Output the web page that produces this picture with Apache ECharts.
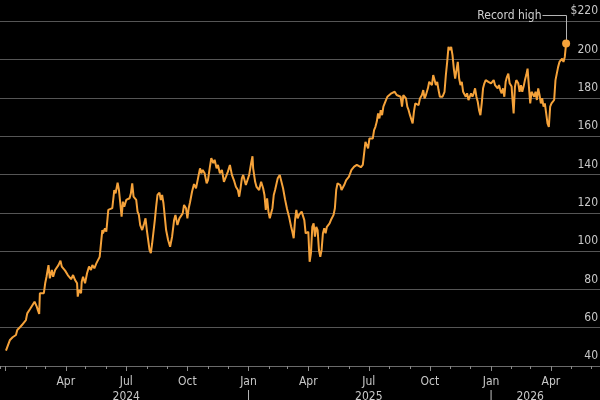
<!DOCTYPE html>
<html><head><meta charset="utf-8">
<script src="https://cdn.jsdelivr.net/npm/echarts@6/dist/echarts.min.js"></script>
<style>html,body{margin:0;padding:0;background:#000;}#c{width:600px;height:400px;}</style>
</head><body><div id="c"></div>
<script>
const dates = [
'2024-01-02','2024-01-04','2024-01-08','2024-01-12','2024-01-17','2024-01-19','2024-01-23','2024-01-26','2024-01-29',
'2024-02-01','2024-02-03','2024-02-07','2024-02-11','2024-02-14','2024-02-17','2024-02-19','2024-02-21','2024-02-22','2024-02-25','2024-02-28',
'2024-03-01','2024-03-03','2024-03-06','2024-03-08','2024-03-11','2024-03-13','2024-03-16','2024-03-21','2024-03-24','2024-03-26','2024-03-31',
'2024-04-04','2024-04-07','2024-04-09','2024-04-12','2024-04-15','2024-04-18','2024-04-19','2024-04-21','2024-04-24','2024-04-25','2024-04-27','2024-04-30',
'2024-05-03','2024-05-06','2024-05-09','2024-05-11','2024-05-14','2024-05-17','2024-05-20','2024-05-22','2024-05-24','2024-05-26','2024-05-27','2024-05-30',
'2024-06-01','2024-06-04','2024-06-07','2024-06-10','2024-06-13','2024-06-15','2024-06-18','2024-06-20','2024-06-22','2024-06-24','2024-06-26','2024-06-28',
'2024-07-01','2024-07-04','2024-07-06','2024-07-08','2024-07-10','2024-07-12','2024-07-14','2024-07-16','2024-07-18','2024-07-20','2024-07-22','2024-07-25','2024-07-28','2024-07-30',
'2024-08-01','2024-08-03','2024-08-05','2024-08-07','2024-08-09','2024-08-11','2024-08-13','2024-08-15','2024-08-17','2024-08-20','2024-08-22','2024-08-24','2024-08-26','2024-08-28','2024-08-30',
'2024-09-02','2024-09-05','2024-09-08','2024-09-11','2024-09-13','2024-09-14','2024-09-16','2024-09-19','2024-09-21','2024-09-24','2024-09-26','2024-09-29',
'2024-10-01','2024-10-03','2024-10-05','2024-10-08','2024-10-11','2024-10-14','2024-10-17','2024-10-20','2024-10-22','2024-10-24','2024-10-27','2024-10-30',
'2024-11-01','2024-11-04','2024-11-06','2024-11-09','2024-11-11','2024-11-14','2024-11-16','2024-11-19','2024-11-22','2024-11-25','2024-11-28',
'2024-12-01','2024-12-04','2024-12-07','2024-12-10','2024-12-13','2024-12-16','2024-12-18','2024-12-20','2024-12-22','2024-12-24','2024-12-26','2024-12-28','2024-12-31',
'2025-01-02','2025-01-05','2025-01-07','2025-01-08','2025-01-11','2025-01-13','2025-01-16','2025-01-17','2025-01-20','2025-01-23','2025-01-25','2025-01-27','2025-01-29','2025-01-31',
'2025-02-02','2025-02-04','2025-02-06','2025-02-08','2025-02-10','2025-02-12','2025-02-14','2025-02-17','2025-02-20','2025-02-22','2025-02-25','2025-02-28',
'2025-03-03','2025-03-06','2025-03-08','2025-03-10','2025-03-12','2025-03-14','2025-03-16','2025-03-18','2025-03-20','2025-03-22','2025-03-24','2025-03-26','2025-03-28','2025-03-30',
'2025-04-01','2025-04-03','2025-04-05','2025-04-07','2025-04-09','2025-04-11','2025-04-13','2025-04-15','2025-04-17','2025-04-19','2025-04-21','2025-04-23','2025-04-25','2025-04-27','2025-04-29',
'2025-05-01','2025-05-03','2025-05-05','2025-05-07','2025-05-09','2025-05-11','2025-05-13','2025-05-15','2025-05-17','2025-05-19','2025-05-21','2025-05-23','2025-05-25','2025-05-28','2025-05-30',
'2025-06-01','2025-06-03','2025-06-05','2025-06-07','2025-06-09','2025-06-11','2025-06-13','2025-06-16','2025-06-19','2025-06-22','2025-06-24','2025-06-26','2025-06-28','2025-06-30',
'2025-07-02','2025-07-05','2025-07-07','2025-07-09','2025-07-11','2025-07-13','2025-07-15','2025-07-17','2025-07-19','2025-07-21','2025-07-23','2025-07-26','2025-07-29',
'2025-08-01','2025-08-04','2025-08-07','2025-08-09','2025-08-12','2025-08-15','2025-08-18','2025-08-20','2025-08-22','2025-08-24','2025-08-26','2025-08-28','2025-08-30',
'2025-09-01','2025-09-03','2025-09-05','2025-09-07','2025-09-09','2025-09-11','2025-09-14','2025-09-16','2025-09-19','2025-09-21','2025-09-23','2025-09-25','2025-09-28','2025-09-30',
'2025-10-02','2025-10-04','2025-10-06','2025-10-08','2025-10-10','2025-10-12','2025-10-14','2025-10-16','2025-10-18','2025-10-20','2025-10-23','2025-10-25','2025-10-27','2025-10-29','2025-10-31',
'2025-11-02','2025-11-04','2025-11-06','2025-11-08','2025-11-10','2025-11-12','2025-11-14','2025-11-16','2025-11-18','2025-11-20','2025-11-22','2025-11-24','2025-11-26','2025-11-28','2025-11-30',
'2025-12-02','2025-12-04','2025-12-06','2025-12-08','2025-12-10','2025-12-12','2025-12-14','2025-12-16','2025-12-18','2025-12-20','2025-12-22','2025-12-24','2025-12-26','2025-12-28','2025-12-30',
'2026-01-01','2026-01-03','2026-01-05','2026-01-07','2026-01-09','2026-01-11','2026-01-13','2026-01-15','2026-01-17','2026-01-19','2026-01-21','2026-01-23','2026-01-25','2026-01-27','2026-01-29',
'2026-02-01','2026-02-02','2026-02-04','2026-02-06','2026-02-08','2026-02-11','2026-02-13','2026-02-15','2026-02-17','2026-02-19','2026-02-21','2026-02-23','2026-02-25','2026-02-27',
'2026-03-01','2026-03-03','2026-03-05','2026-03-07','2026-03-09','2026-03-11','2026-03-13','2026-03-15','2026-03-17','2026-03-19','2026-03-21','2026-03-23','2026-03-25','2026-03-27','2026-03-29','2026-03-31',
'2026-04-02','2026-04-04','2026-04-06','2026-04-08','2026-04-10','2026-04-12','2026-04-14','2026-04-16','2026-04-18','2026-04-20','2026-04-22','2026-04-24'
];
const prices = [
48.0,48.4,53.6,55,56.2,58.8,60.2,61.4,60.9,
64,67.5,69.6,71.9,73.6,71.3,69.2,67.2,78,78.6,78,
83.2,86.6,92.7,85.8,90.1,86.6,90.1,92.7,95,91.9,89.8,
87.5,88,85.3,87.5,84.9,83.2,76.2,79.7,78,84,86.6,83.2,
88.4,91.9,90.1,92.7,91,93.6,94.5,97,104,111,109.3,111.9,
110.1,121.5,120.6,122.4,131.9,130.2,135.7,131.9,125,118,125.8,123.2,
126.7,125.8,127.6,130.2,135.4,128.4,129.3,126.7,120.6,118.9,113.6,111,114.5,117.1,
111,105.8,100.6,98.9,104.1,110.1,116.2,123.2,129.3,130.5,126.7,129.3,125,118,111,
105.8,102.3,107.5,116.2,118.9,118,113.6,117.1,118,119.7,124.1,122.4,
117.1,122.4,125.5,131,135,132.8,138,143.2,140.6,142.4,140.6,135.4,
137.1,144.2,148.5,146,147.7,143.2,145,140.6,142.4,136.2,138.8,
141.5,145,139.8,137.1,133.6,131.9,128.4,132.8,138,139.8,137.1,134.5,135.4,
139.8,146,149.5,143.2,136.2,133.6,134.5,131.9,136.2,132.8,129.3,121.5,127.6,120.6,
117.1,116.2,122.4,129.3,131.9,131,138,139.8,138.8,132.8,127,122,
118,113,110.1,106.7,116.2,121.5,117.1,118.9,118,120.6,121.5,116.2,109.3,108.4,
110.1,94.4,98.9,112.7,114.5,107.5,112.7,111,100.6,97,100.6,109.3,111.9,109.3,112.7,
113.6,114.5,116.2,115.3,118.9,122.4,131.9,135.4,135.4,134.5,131.9,132.8,134.5,137.1,136.2,
138.8,140.6,142.4,143.2,144.1,143.2,145,144.4,143.8,145,151,157.1,158,153.6,
158.8,159.7,158.8,163.2,164.9,167.5,171.9,169.3,173.6,171,175.4,178,180.6,
181.5,182.4,181.5,183.2,181.5,182.4,180.6,175.4,181.5,181.5,179.8,175.4,173.6,
171,170.1,166.7,172.8,177.1,178,176.2,179.7,181.5,184.1,179.7,181.5,185,188.4,
189.3,186.7,191.9,192.8,186.7,188.4,184.1,180.6,181.5,180.6,183.2,191.9,198.8,206.6,204.9,
206.6,202.3,195.3,190.1,194.5,198.8,190.1,186.7,188.4,183.2,182.4,180.6,182.4,178.9,180.6,
182.4,180.6,182.4,185,180.6,178,173.6,171,177.1,185,187.6,189.3,190.1,188.4,189.3,
187.6,188.4,189.3,186.7,187.6,185,186.7,184.1,182.4,185,180.6,188.4,191,192.7,187.6,
185.9,180.6,171.9,185.9,189.3,187.6,183.2,186.7,183.2,185.9,189.3,191.9,195.3,185.9,
177.1,183.2,182.4,180.6,183.2,178.9,185,181.5,177.1,179.8,175.4,177.1,171.9,166.7,164.9,175.4,
177.1,178,178.9,189.3,190.1,196.2,198.8,199.7,200.5,198.8,201.4,208.4
];
const monthNames = ['Jan','Feb','Mar','Apr','May','Jun','Jul','Aug','Sep','Oct','Nov','Dec'];
const labelledMonths = [0, 3, 6, 9];
const yearLabels = {'2024-07': '2024', '2025-07': '2025', '2026-03': '2026'};
const yearSeparators = ['2025-01', '2026-01'];
const yMin = 40, yMax = 220, yStep = 20;
const annotationText = 'Record high';
const axisStart = '2023-12-24', axisEnd = '2026-06-14';

const FONT = '"DejaVu Sans Condensed", "Liberation Sans Narrow", sans-serif';
const FS = 12;
const LINE = '#f5a23a';
const TXT = '#c8c8c8';
const DAY = 86400000;
const firstTime = echarts.time.parse(dates[0]).getTime();

function monthKey(v) { const d = new Date(v); return d.getFullYear() + '-' + String(d.getMonth() + 1).padStart(2, '0'); }
function isMonthStart(v) { const d = new Date(v); return d.getDate() === 1 && d.getHours() === 0; }

const chart = echarts.init(document.getElementById('c'), null, {renderer: 'canvas'});
const last = dates.length - 1;
chart.setOption({
  backgroundColor: '#000',
  animation: false,
  grid: {left: 0, right: 0, top: 21.3, bottom: 34, containLabel: false, outerBoundsMode: 'none'},
  xAxis: [
    {
      type: 'time', min: axisStart, max: axisEnd, position: 'bottom',
      minInterval: 31 * DAY, maxInterval: 31 * DAY,
      axisLine: {show: true, lineStyle: {color: '#6a6a6a', width: 1}},
      axisTick: {show: true, length: 3, lineStyle: {color: '#8a8a8a'}},
      splitLine: {show: false},
      axisLabel: {
        show: true, margin: 8, color: TXT, fontFamily: FONT, fontSize: FS, lineHeight: 15,
        hideOverlap: false, showMinLabel: true, showMaxLabel: true,
        formatter: function (v) {
          if (!isMonthStart(v)) return '';
          const k = monthKey(v);
          if (yearLabels[k]) return '\n' + yearLabels[k];
          if (yearSeparators.indexOf(k) >= 0) return '\n|';
          return '';
        }
      }
    },
    {
      type: 'time', min: axisStart, max: axisEnd, position: 'bottom', gridIndex: 0,
      minInterval: 95 * DAY, maxInterval: 95 * DAY,
      axisLine: {show: false},
      axisTick: {show: true, length: 5, lineStyle: {color: '#8a8a8a'}},
      splitLine: {show: false},
      axisLabel: {
        show: true, margin: 8, color: TXT, fontFamily: FONT, fontSize: FS, lineHeight: 15,
        hideOverlap: false,
        formatter: function (v) {
          if (!isMonthStart(v) || v < firstTime) return '';
          const m = new Date(v).getMonth();
          return labelledMonths.indexOf(m) >= 0 ? monthNames[m] : '';
        }
      }
    }
  ],
  yAxis: {
    type: 'value', position: 'right', min: yMin, max: yMax, interval: yStep,
    axisLine: {show: false}, axisTick: {show: false},
    splitLine: {show: true, lineStyle: {color: '#555555', width: 1}},
    axisLabel: {
      inside: true, margin: 2, color: TXT, fontFamily: FONT, fontSize: FS,
      verticalAlign: 'bottom', padding: [0, 0, 4, 0],
      formatter: function (v) { return v === yMax ? '$' + v : String(v); }
    }
  },
  series: [
    {
      type: 'line', xAxisIndex: 0, yAxisIndex: 0,
      data: dates.map(function (d, i) { return [d, prices[i]]; }),
      showSymbol: false, symbol: 'none', smooth: false, silent: true,
      lineStyle: {color: LINE, width: 2}, itemStyle: {color: LINE}, z: 3
    },
    {
      type: 'custom', xAxisIndex: 0, yAxisIndex: 0, clip: false, silent: true, z: 5,
      data: [[dates[last], prices[last]]],
      renderItem: function (params, api) {
        const p = api.coord([api.value(0), api.value(1)]);
        const lx = Math.round(p[0]) + 0.5;
        const ly = Math.round(p[1] - 29) + 0.5;
        const hx = lx - 24;
        return {
          type: 'group',
          children: [
            {type: 'polyline', shape: {points: [[lx, p[1]], [lx, ly], [hx, ly]]}, style: {stroke: '#b4b4b4', lineWidth: 1, fill: null}},
            {type: 'circle', shape: {cx: p[0], cy: p[1], r: 4}, style: {fill: LINE}},
            {type: 'text', x: hx - 1, y: ly, style: {text: annotationText, align: 'right', verticalAlign: 'middle', fill: '#d0d0d0', font: FS + 'px ' + FONT}}
          ]
        };
      }
    }
  ]
});
</script>
</body></html>
